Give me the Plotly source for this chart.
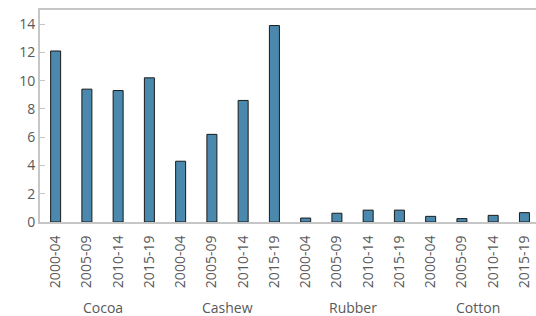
import plotly.graph_objects as go

commodities = ["Cocoa", "Cashew", "Rubber", "Cotton"]
periods = ["2000-04", "2005-09", "2010-14", "2015-19"]
cocoa = [12.1, 9.4, 9.3, 10.2]
cashew = [4.3, 6.2, 8.6, 13.9]
rubber = [0.28, 0.62, 0.84, 0.84]
cotton = [0.4, 0.24, 0.47, 0.66]

series = [cocoa, cashew, rubber, cotton]
labels, vals = [], []
for s in series:
    for p, v in zip(periods, s):
        labels.append(p)
        vals.append(v)
pos = list(range(len(vals)))

GRAY = "#595959"
AX = "#c6c6c6"

fig = go.Figure(go.Bar(
    x=pos, y=vals,
    marker=dict(color="#4A89AD", line=dict(color="#1a1a1a", width=1)),
    width=0.32,
))
n = len(periods)
for g, c in enumerate(commodities):
    fig.add_annotation(
        x=g * n + (n - 1) / 2, y=-85 / 212, xref="x", yref="paper",
        text=c, showarrow=False, yanchor="middle",
        font=dict(size=14, color=GRAY),
    )
fig.update_layout(
    width=536, height=316,
    margin=dict(l=40, r=0, t=10, b=94),
    paper_bgcolor="white", plot_bgcolor="white",
    font=dict(family="Open Sans", size=14, color=GRAY),
    showlegend=False,
)
fig.update_xaxes(
    tickvals=pos, ticktext=labels, tickangle=-90, automargin=False,
    range=[-0.5, 15.37], showline=True, linecolor=AX, linewidth=2, mirror=True,
    showgrid=False, zeroline=False, ticks="", ticklabelstandoff=6,
    tickfont=dict(size=14, color=GRAY),
)
fig.update_yaxes(
    range=[0, 15], tickvals=[0, 2, 4, 6, 8, 10, 12, 14], automargin=False,
    showline=True, linecolor=AX, linewidth=2, showgrid=False, zeroline=False,
    ticks="inside", ticklen=5, tickcolor=AX, tickfont=dict(size=14, color=GRAY),
)
fig.write_html(
    "out.html",
    config={"displayModeBar": False},
    post_script="document.body.style.margin='0';document.body.style.overflow='hidden';",
)
